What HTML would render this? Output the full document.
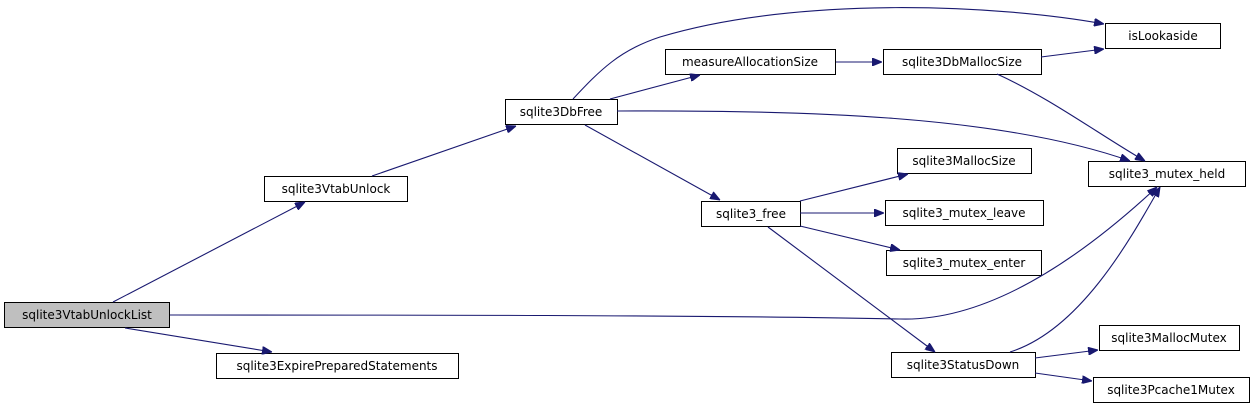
<!DOCTYPE html>
<html><head><meta charset="utf-8"><style>
html,body{margin:0;padding:0;background:#fff;}
svg{display:block;}
text{font-family:"DejaVu Sans","Liberation Sans",sans-serif;font-size:12px;fill:#000;}
.e{fill:none;stroke:#191970;stroke-width:1.1;}
</style></head><body>
<svg width="1256" height="410" viewBox="0 0 1256 410" xmlns="http://www.w3.org/2000/svg">
<defs><marker id="a" viewBox="0 0 10 8" refX="10" refY="4" markerWidth="10" markerHeight="8" markerUnits="userSpaceOnUse" orient="auto"><path d="M0,0L10,4L0,8z" fill="#191970" stroke="#191970"/></marker></defs>
<g stroke="#000" stroke-width="1" fill="#fff">
<rect x="4.5" y="302.5" width="165" height="25" fill="#bfbfbf"/>
<rect x="264.5" y="176.5" width="143" height="25"/>
<rect x="216.5" y="353.5" width="242" height="25"/>
<rect x="505.5" y="99.5" width="112" height="25"/>
<rect x="665.5" y="49.5" width="170" height="25"/>
<rect x="883.5" y="49.5" width="158" height="25"/>
<rect x="1105.5" y="23.5" width="115" height="25"/>
<rect x="1088.5" y="161.5" width="157" height="25"/>
<rect x="701.5" y="201.5" width="99" height="25"/>
<rect x="897.5" y="148.5" width="134" height="25"/>
<rect x="885.5" y="200.5" width="158" height="25"/>
<rect x="886.5" y="250.5" width="155" height="25"/>
<rect x="891.5" y="352.5" width="144" height="25"/>
<rect x="1099.5" y="325.5" width="140" height="25"/>
<rect x="1093.5" y="377.5" width="156" height="25"/>
</g>
<g>
<text x="87" y="319" text-anchor="middle">sqlite3VtabUnlockList</text>
<text x="336" y="193" text-anchor="middle">sqlite3VtabUnlock</text>
<text x="337" y="370" text-anchor="middle">sqlite3ExpirePreparedStatements</text>
<text x="561" y="116" text-anchor="middle">sqlite3DbFree</text>
<text x="750" y="66" text-anchor="middle">measureAllocationSize</text>
<text x="962" y="66" text-anchor="middle">sqlite3DbMallocSize</text>
<text x="1163" y="40" text-anchor="middle">isLookaside</text>
<text x="1167" y="178" text-anchor="middle">sqlite3_mutex_held</text>
<text x="751" y="218" text-anchor="middle">sqlite3_free</text>
<text x="964" y="165" text-anchor="middle">sqlite3MallocSize</text>
<text x="964" y="217" text-anchor="middle">sqlite3_mutex_leave</text>
<text x="964" y="267" text-anchor="middle">sqlite3_mutex_enter</text>
<text x="963" y="369" text-anchor="middle">sqlite3StatusDown</text>
<text x="1169" y="342" text-anchor="middle">sqlite3MallocMutex</text>
<text x="1171" y="394" text-anchor="middle">sqlite3Pcache1Mutex</text>
</g>
<g marker-end="url(#a)">
<path class="e" d="M113,302 L305,202"/>
<path class="e" d="M125,328 L272,352"/>
<path class="e" d="M170,315 C400,315 700,315 900,319 C1000,322 1100,240 1157,187"/>
<path class="e" d="M372,176 L516,126"/>
<path class="e" d="M573,99 C600,70 620,50 660,37 C800,-5 1000,5 1104,24"/>
<path class="e" d="M610,99 L700,75"/>
<path class="e" d="M617,111 C800,110 1000,115 1130,161"/>
<path class="e" d="M585,125 L720,200"/>
<path class="e" d="M836,62 L882,62"/>
<path class="e" d="M1041,57 L1104,49"/>
<path class="e" d="M997,74 C1050,98 1100,135 1145,161"/>
<path class="e" d="M800,201 L908,174"/>
<path class="e" d="M800,213 L884,213"/>
<path class="e" d="M800,226 L900,250"/>
<path class="e" d="M768,227 L935,352"/>
<path class="e" d="M1010,352 C1080,330 1130,240 1160,187"/>
<path class="e" d="M1035,358 L1098,350"/>
<path class="e" d="M1035,373 L1092,381"/>
</g>
</svg>
</body></html>
